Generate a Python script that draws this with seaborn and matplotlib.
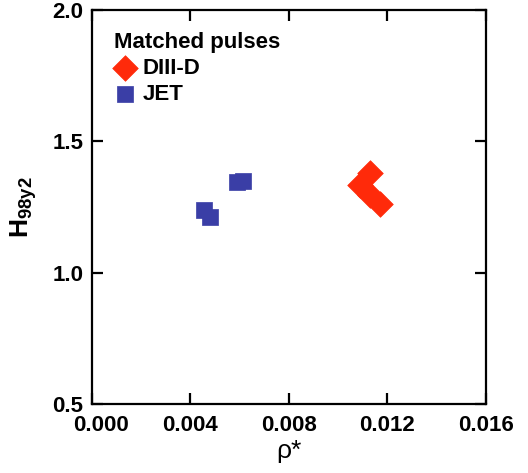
import matplotlib
matplotlib.use("Agg")
import matplotlib.pyplot as plt
import matplotlib.transforms as mtransforms
import seaborn as sns
import pandas as pd

# Matched pulses: normalised gyroradius vs confinement factor
diiid_rho = [0.0113, 0.0109, 0.0113, 0.0117]
diiid_h = [1.378, 1.333, 1.295, 1.262]
jet_rho = [0.00590, 0.00615, 0.00457, 0.00478]
jet_h = [1.345, 1.350, 1.240, 1.212]

devices = ["DIII-D", "JET"]
colors = {"DIII-D": "#FF2A0A", "JET": "#3A3EA6"}
markers = {"DIII-D": "D", "JET": "s"}

x_ticks = [0.000, 0.004, 0.008, 0.012, 0.016]
x_tick_labels = ["0.000", "0.004", "0.008", "0.012", "0.016"]
y_ticks = [0.5, 1.0, 1.5, 2.0]
y_tick_labels = ["0.5", "1.0", "1.5", "2.0"]

df = pd.DataFrame({
    "rho": diiid_rho + jet_rho,
    "H": diiid_h + jet_h,
    "device": ["DIII-D"] * len(diiid_rho) + ["JET"] * len(jet_rho),
})

sns.set_style("ticks")
FONT = ["Liberation Sans", "DejaVu Sans"]
plt.rcParams["font.family"] = FONT
plt.rcParams["mathtext.fontset"] = "custom"
plt.rcParams["mathtext.bf"] = "Liberation Sans:bold"
plt.rcParams["mathtext.rm"] = "Liberation Sans"
plt.rcParams["text.color"] = "black"
plt.rcParams["axes.labelcolor"] = "black"
plt.rcParams["xtick.color"] = "black"
plt.rcParams["ytick.color"] = "black"

fig = plt.figure(figsize=(5.28, 4.73), dpi=100)
ax = fig.add_axes([0.174, 0.146, 0.746, 0.833])

for dev in devices:
    sub = df[df["device"] == dev]
    sns.scatterplot(
        data=sub, x="rho", y="H", ax=ax,
        color=colors[dev], marker=markers[dev],
        s=130 if dev == "JET" else 170,
        edgecolor=colors[dev], linewidth=0.5, label=dev,
    )

ax.set_xlim(0.0, 0.016)
ax.set_ylim(0.5, 2.0)
ax.set_xticks(x_ticks)
ax.set_xticklabels(x_tick_labels)
ax.set_yticks(y_ticks)
ax.set_yticklabels(y_tick_labels)

for side in ["left", "right", "top", "bottom"]:
    ax.spines[side].set_visible(True)
    ax.spines[side].set_linewidth(1.6)
    ax.spines[side].set_color("black")

ax.tick_params(direction="in", length=8, width=1.6, top=True, right=True,
               labelsize=16, pad=6, colors="black")
ax.tick_params(axis="x", pad=8)
for lab in ax.get_xticklabels() + ax.get_yticklabels():
    lab.set_fontweight("bold")
    lab.set_color("black")

# nudge the first x label clear of the lowest y label
first = ax.get_xticklabels()[0]
first.set_transform(first.get_transform() +
                    mtransforms.ScaledTranslation(9 / 100, 0, fig.dpi_scale_trans))

ax.set_xlabel("ρ*", fontsize=19, labelpad=2, color="black")
ax.set_ylabel(r"$\mathbf{H_{98y2}}$", fontsize=19, labelpad=10, color="black")

leg = ax.legend(title="Matched pulses", loc="upper left", frameon=False,
                bbox_to_anchor=(0.0, 1.0), fontsize=16, title_fontsize=16,
                handletextpad=0.3, labelspacing=0.22, borderpad=0.5,
                markerscale=1.0, handlelength=1.0)
leg._legend_box.align = "left"
leg.get_title().set_fontweight("bold")
leg.get_title().set_color("black")
for t in leg.get_texts():
    t.set_fontweight("bold")
    t.set_color("black")

fig.savefig("out.png", dpi=100)
